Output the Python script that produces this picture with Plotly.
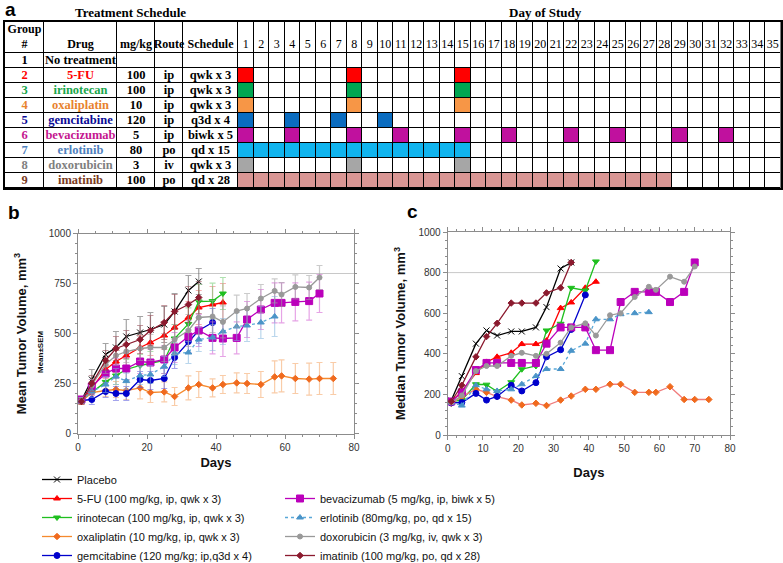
import plotly.graph_objects as go

# ---------------- panel a: treatment schedule ----------------
GROUPS = ["1", "2", "3", "4", "5", "6", "7", "8", "9"]
DRUGS = ["No treatment", "5-FU", "irinotecan", "oxaliplatin", "gemcitabine",
         "bevacizumab", "erlotinib", "doxorubicin", "imatinib"]
DOSES = ["", "100", "100", "10", "120", "5", "80", "3", "100"]
ROUTES = ["", "ip", "ip", "ip", "ip", "ip", "po", "iv", "po"]
SCHEDULES = ["", "qwk x 3", "qwk x 3", "qwk x 3", "q3d x 4", "biwk x 5",
             "qd x 15", "qwk x 3", "qd x 28"]
HEADERS = ["Group<br>#", "Drug", "mg/kg", "Route", "Schedule"]
STUDY_DAYS = [1, 2, 3, 4, 5, 6, 7, 8, 9, 10, 11, 12, 13, 14, 15, 16, 17, 18,
              19, 20, 21, 22, 23, 24, 25, 26, 27, 28, 29, 30, 31, 32, 33, 34, 35]
DOSE_DAYS = [
    [],
    [1, 8, 15],
    [1, 8, 15],
    [1, 8, 15],
    [1, 4, 7, 10],
    [1, 4, 8, 11, 15, 18, 22, 25, 29, 32],
    [1, 2, 3, 4, 5, 6, 7, 8, 9, 10, 11, 12, 13, 14, 15],
    [1, 8, 15],
    [1, 2, 3, 4, 5, 6, 7, 8, 9, 10, 11, 12, 13, 14, 15, 16, 17, 18, 19, 20,
     21, 22, 23, 24, 25, 26, 27, 28],
]

# ---------------- panels b / c: tumour volumes ----------------
MEASURE_DAYS = [1, 4, 8, 11, 14, 18, 21, 25, 28, 32, 35, 39, 42, 46, 49, 53,
                57, 59, 63, 67, 70, 74]

PLACEBO_MEAN = [165, 270, 395, 430, 485, 505, 520, 545, 610, 715, 760]
PLACEBO_SEM = [15, 50, 55, 80, 85, 80, 85, 90, 90, 75, 65]
PLACEBO_MEDIAN = [170, 290, 450, 515, 490, 510, 510, 530, 630, 820, 850]

FU_MEAN = [160, 225, 320, 360, 390, 430, 455, 490, 530, 580, 630, 645, 655]
FU_SEM = [15, 35, 45, 55, 60, 60, 65, 70, 80, 80, 85, 90, 95]
FU_MEDIAN = [165, 215, 305, 360, 385, 405, 448, 448, 465, 625, 653, 725, 755]

IRINO_MEAN = [165, 205, 258, 290, 320, 340, 350, 365, 475, 548, 660, 662, 700]
IRINO_SEM = [15, 30, 40, 45, 50, 55, 60, 65, 70, 80, 85, 90, 80]
IRINO_MEDIAN = [165, 172, 250, 248, 214, 260, 324, 340, 515, 548, 725, 712, 855]

OXALI_MEAN = [160, 205, 215, 220, 215, 228, 205, 208, 185, 228, 245, 228, 245,
              253, 250, 245, 283, 288, 275, 272, 275, 275]
OXALI_SEM = [15, 25, 30, 40, 45, 55, 50, 50, 45, 60, 65, 45, 45, 50, 50, 65,
             80, 80, 75, 80, 80, 80]
OXALI_MEDIAN = [156, 189, 225, 210, 189, 172, 148, 156, 145, 172, 192, 225,
                225, 250, 250, 210, 210, 210, 238, 175, 175, 175]

GEM_MEAN = [165, 170, 210, 200, 200, 270, 265, 275, 380, 460, 515, 555]
GEM_SEM = [15, 25, 30, 35, 35, 40, 45, 50, 55, 60, 65, 70]
GEM_MEDIAN = [158, 160, 205, 172, 190, 245, 217, 258, 385, 420, 520, 690]

BEVA_MEAN = [170, 235, 300, 325, 325, 360, 355, 370, 430, 485, 515, 478, 475,
             478, 570, 620, 653, 653, 658, 662, 700]
BEVA_SEM = [15, 35, 45, 50, 55, 60, 65, 70, 75, 80, 80, 80, 90, 80, 90, 100,
            100, 100, 95, 95, 95]
BEVA_MEDIAN = [165, 210, 320, 355, 355, 355, 355, 355, 450, 530, 530, 530, 418,
               418, 655, 705, 705, 705, 655, 705, 850]

ERLO_MEAN = [165, 210, 245, 285, 262, 290, 295, 335, 400, 405, 470, 480, 510,
             535, 540, 555, 585]
ERLO_SEM = [15, 30, 40, 40, 40, 45, 45, 50, 55, 55, 60, 65, 65, 70, 80, 80, 100]
ERLO_MEDIAN = [160, 145, 245, 225, 217, 225, 250, 290, 325, 325, 415, 450, 570,
               570, 595, 600, 605]

DOXO_MEAN = [165, 240, 345, 390, 410, 425, 430, 430, 470, 515, 580, 585, 558,
             612, 625, 675, 713, 695, 733, 730, 780]
DOXO_SEM = [15, 30, 45, 50, 55, 60, 65, 70, 75, 80, 85, 80, 80, 80, 75, 70,
            60, 60, 60, 60, 60]
DOXO_MEDIAN = [160, 195, 315, 340, 340, 390, 405, 390, 400, 455, 530, 550, 490,
               590, 600, 680, 730, 715, 780, 755, 830]

IMAT_MEAN = [160, 250, 365, 425, 445, 470, 515, 555, 610, 645, 680]
IMAT_SEM = [15, 40, 50, 60, 70, 70, 75, 85, 85, 90, 80]
IMAT_MEDIAN = [165, 245, 385, 485, 550, 650, 650, 650, 700, 725, 850]

SERIES_NAMES = [
    "Placebo",
    "5-FU (100 mg/kg, ip, qwk x 3)",
    "irinotecan (100 mg/kg, ip, qwk x 3)",
    "oxaliplatin (10 mg/kg, ip, qwk x 3)",
    "gemcitabine (120 mg/kg; ip,q3d x 4)",
    "bevacizumab (5 mg/kg, ip, biwk x 5)",
    "erlotinib (80mg/kg, po, qd x 15)",
    "doxorubicin (3 mg/kg, iv, qwk x 3)",
    "imatinib (100 mg/kg, po, qd x 28)",
]
MEANS = [PLACEBO_MEAN, FU_MEAN, IRINO_MEAN, OXALI_MEAN, GEM_MEAN, BEVA_MEAN,
         ERLO_MEAN, DOXO_MEAN, IMAT_MEAN]
SEMS = [PLACEBO_SEM, FU_SEM, IRINO_SEM, OXALI_SEM, GEM_SEM, BEVA_SEM,
        ERLO_SEM, DOXO_SEM, IMAT_SEM]
MEDIANS = [PLACEBO_MEDIAN, FU_MEDIAN, IRINO_MEDIAN, OXALI_MEDIAN, GEM_MEDIAN,
           BEVA_MEDIAN, ERLO_MEDIAN, DOXO_MEDIAN, IMAT_MEDIAN]
REFERENCE_VOLUME = 800

# ---------------- styles ----------------
TABLE_TEXT = ["#000000", "#FF0000", "#1AA64B", "#E8822E", "#0A0A96", "#C4168F",
              "#4F81BD", "#7F7F7F", "#7A3B1E"]
TABLE_FILL = ["#FFFFFF", "#FF0000", "#00A651", "#F79646", "#0A6CC0", "#C0119E",
              "#10B4EE", "#A6A6A6", "#D99694"]
COL_WIDTHS = [39, 73, 38, 28, 55] + [15.5] * len(STUDY_DAYS)
HEADER_H, ROW_H = 31, 15
# line color, marker color, symbol, size, dash, error color, legend
STYLES = [
    ("#000000", "#000000", "x-thin-open", 6, "solid", "rgba(90,90,90,0.55)", "legend"),
    ("#FF0000", "#FF0000", "triangle-up", 6, "solid", "rgba(240,110,110,0.55)", "legend"),
    ("#1FBF1F", "#1FBF1F", "triangle-down", 6, "solid", "rgba(110,200,110,0.55)", "legend"),
    ("#F58A2E", "#F06A1E", "diamond", 5, "solid", "rgba(245,170,110,0.6)", "legend"),
    ("#0000CC", "#0000CC", "circle", 6, "solid", "rgba(90,90,220,0.55)", "legend"),
    ("#BB00BB", "#BB00BB", "square", 7, "solid", "rgba(210,90,210,0.55)", "legend2"),
    ("#5AA8D8", "#4A94C8", "triangle-up", 6, "dot", "rgba(130,180,220,0.55)", "legend2"),
    ("#999999", "#999999", "circle", 5, "solid", "rgba(160,160,160,0.55)", "legend2"),
    ("#8B1A2E", "#8B1A2E", "diamond", 5, "solid", "rgba(150,70,80,0.55)", "legend2"),
]
MEDIAN_LINE = {3: "#F07C7C"}
SERIF = "Liberation Serif, Times New Roman, serif"
SANS = "Arial, Liberation Sans, sans-serif"

W, H = 783, 563


def px_x(x):
    return x / W


def px_y(y):
    return 1 - y / H


fig = go.Figure()

# ---- table drawn as a heatmap grid (gaps show a black backdrop) ----
n = len(GROUPS)
x_edges = [0.0]
for w in COL_WIDTHS:
    x_edges.append(x_edges[-1] + w)
y_edges = [0.0, HEADER_H] + [HEADER_H + ROW_H * (k + 1) for k in range(n)]
x_mid = [(a + b) / 2 for a, b in zip(x_edges[:-1], x_edges[1:])]
y_mid = [(a + b) / 2 for a, b in zip(y_edges[:-1], y_edges[1:])]

z = [[0] * len(COL_WIDTHS)]
for i in range(n):
    z.append([0] * 5 + [i if d in DOSE_DAYS[i] else 0 for d in STUDY_DAYS])
nc = len(TABLE_FILL) - 1
scale = [[k / nc, c] for k, c in enumerate(TABLE_FILL)]

fig.add_trace(go.Heatmap(
    x=x_edges, y=y_edges, z=z, zmin=0, zmax=nc, colorscale=scale,
    showscale=False, xgap=1, ygap=1, hoverinfo="skip", xaxis="x3", yaxis="y3",
))

# header texts
head_y = [y_mid[0] if "<br>" in h else HEADER_H - 8 for h in HEADERS] + [HEADER_H - 8] * len(STUDY_DAYS)
fig.add_trace(go.Scatter(
    x=x_mid, y=head_y, mode="text",
    text=[f"<b>{h}</b>" for h in HEADERS] + [str(d) for d in STUDY_DAYS],
    textfont=dict(family=SERIF, size=12, color="#000000"),
    showlegend=False, hoverinfo="skip", xaxis="x3", yaxis="y3",
))
# body texts
bx, by, bt, bc, bp = [], [], [], [], []
for i in range(n):
    row = [GROUPS[i], DRUGS[i], DOSES[i], ROUTES[i], SCHEDULES[i]]
    for j, v in enumerate(row):
        if not v:
            continue
        left = i == 0 and j == 1
        bx.append(x_edges[j] + 1 if left else x_mid[j])
        by.append(y_mid[i + 1])
        bt.append(f"<b>{v}</b>")
        bc.append(TABLE_TEXT[i] if j < 2 else "#000000")
        bp.append("middle right" if left else "middle center")
fig.add_trace(go.Scatter(
    x=bx, y=by, mode="text", text=bt, textposition=bp,
    textfont=dict(family=SERIF, size=12.5, color=bc),
    showlegend=False, hoverinfo="skip", xaxis="x3", yaxis="y3",
))
fig.add_shape(type="rect", xref="x3 domain", yref="y3 domain", x0=0, x1=1, y0=0, y1=1,
              fillcolor="#000000", line=dict(width=0), layer="below")

# ---- line charts ----
for i, name in enumerate(SERIES_NAMES):
    lc, mc, sym, size, dash, ec, leg = STYLES[i]
    mean = MEANS[i]
    fig.add_trace(go.Scatter(
        x=MEASURE_DAYS[:len(mean)], y=mean, name=name, mode="lines+markers",
        line=dict(color=lc, width=1.3, dash=dash),
        marker=dict(color=mc, symbol=sym, size=size, line=dict(color=mc, width=1)),
        error_y=dict(type="data", array=SEMS[i], color=ec, thickness=1.2, width=3),
        legend=leg, xaxis="x", yaxis="y",
    ))
for i, name in enumerate(SERIES_NAMES):
    lc, mc, sym, size, dash, ec, leg = STYLES[i]
    med = MEDIANS[i]
    fig.add_trace(go.Scatter(
        x=MEASURE_DAYS[:len(med)], y=med, name=name, mode="lines+markers",
        line=dict(color=MEDIAN_LINE.get(i, lc), width=1.3, dash=dash),
        marker=dict(color=mc, symbol=sym, size=size, line=dict(color=mc, width=1)),
        showlegend=False, xaxis="x2", yaxis="y2",
    ))

for xr, yr in [("x domain", "y"), ("x2 domain", "y2")]:
    fig.add_shape(type="line", xref=xr, yref=yr, x0=0, x1=1,
                  y0=REFERENCE_VOLUME, y1=REFERENCE_VOLUME,
                  line=dict(color="#C8C8C8", width=1), layer="below")

tickfont = dict(family=SANS, size=10, color="#333333")
titlefont = dict(family=SANS, size=13, color="#111111", weight="bold")
axis_common = dict(
    showline=True, linecolor="#8C8C8C", linewidth=1, mirror="ticks",
    ticks="outside", ticklen=4, tickcolor="#8C8C8C", showgrid=False, zeroline=False,
    tickfont=tickfont, title_font=titlefont, automargin=False,
)
minor_common = dict(ticks="outside", ticklen=2, tickcolor="#8C8C8C")
grid_axis = dict(showticklabels=False, ticks="", showgrid=False, zeroline=False,
                 showline=True, mirror=True, linecolor="#000000", linewidth=1.5,
                 fixedrange=True, automargin=False)

fig.update_layout(
    width=W, height=H,
    margin=dict(l=0, r=0, t=0, b=0, autoexpand=False),
    paper_bgcolor="white", plot_bgcolor="white",
    font=dict(family=SANS),
    xaxis=dict(domain=[px_x(78), px_x(354)], range=[0, 80], dtick=20,
               minor=dict(dtick=5, **minor_common),
               title=dict(text="Days", standoff=6), anchor="y", **axis_common),
    yaxis=dict(domain=[px_y(433.5), px_y(233.5)], range=[0, 1000], dtick=250,
               minor=dict(dtick=50, **minor_common),
               title=dict(text="Mean Tumor Volume, mm<sup>3</sup>", standoff=19), anchor="x",
               **axis_common),
    xaxis2=dict(domain=[px_x(447.7), px_x(730)], range=[0, 80], dtick=10,
                minor=dict(dtick=2.5, **minor_common),
                title=dict(text="Days", standoff=14), anchor="y2", **axis_common),
    yaxis2=dict(domain=[px_y(435), px_y(232)], range=[0, 1000], dtick=200,
                minor=dict(dtick=40, **minor_common),
                title=dict(text="Median Tumor Volume, mm<sup>3</sup>", standoff=9), anchor="x2",
                **axis_common),
    xaxis3=dict(domain=[px_x(5), px_x(5 + x_edges[-1])], range=[0, x_edges[-1]],
                anchor="y3", **grid_axis),
    yaxis3=dict(domain=[px_y(22 + y_edges[-1]), px_y(22)], range=[y_edges[-1], 0],
                anchor="x3", **grid_axis),
    legend=dict(x=px_x(37), y=px_y(570), xanchor="left", yanchor="bottom",
                font=dict(size=11, color="#111111"), bgcolor="rgba(0,0,0,0)",
                itemwidth=30, tracegroupgap=0),
    legend2=dict(x=px_x(280), y=px_y(570), xanchor="left", yanchor="bottom",
                 font=dict(size=11, color="#111111"), bgcolor="rgba(0,0,0,0)",
                 itemwidth=30, tracegroupgap=0),
    showlegend=True,
)

ann_font = dict(family=SANS, size=19, color="#000000", weight="bold")
serif_head = dict(family=SERIF, size=13, color="#000000")
for txt, x, y in [("a", 3, 9), ("b", 6, 212), ("c", 405, 211)]:
    fig.add_annotation(text=txt, x=px_x(x), y=px_y(y), xref="paper", yref="paper",
                       xanchor="left", yanchor="middle", showarrow=False, font=ann_font)
for txt, x in [("<b>Treatment Schedule</b>", 130), ("<b>Day of Study</b>", 545)]:
    fig.add_annotation(text=txt, x=px_x(x), y=px_y(12), xref="paper", yref="paper",
                       xanchor="center", yanchor="middle", showarrow=False, font=serif_head)
fig.add_annotation(text="<b>Mean±SEM</b>", x=px_x(40), y=px_y(352), xref="paper", yref="paper",
                   xanchor="center", yanchor="middle", showarrow=False, textangle=-90,
                   font=dict(family=SANS, size=8, color="#111111"))

# the page's default body margin would shift the whole figure by 8 px
fig.write_html("out.html", config={"displayModeBar": False},
               post_script="document.body.style.margin='0px';")
